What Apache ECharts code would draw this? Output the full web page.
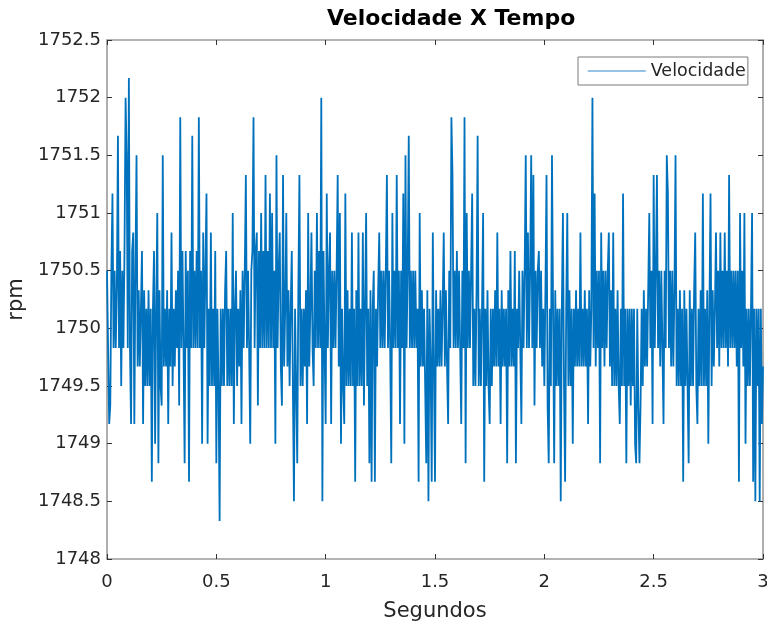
<!DOCTYPE html>
<html>
<head>
<meta charset="utf-8">
<script src="https://cdn.jsdelivr.net/npm/echarts@6/dist/echarts.min.js"></script>
<style>
html,body{margin:0;padding:0;background:#fff;}
#chart{width:767px;height:623px;}
</style>
</head>
<body>
<div id="chart"></div>
<script>
// Sampling interval of the recorded signal (s)
const passo = 0.005;
// Velocity samples (rpm)
const rpm = [
1750.5,1749.83,1749.17,1749.33,1750.5,1751.17,1749.83,1750.5,1749.83,1750.33,
1751.67,1749.83,1750.67,1749.5,1750.5,1749.83,1750.67,1752,1751.5,1749.83,
1752.17,1749.83,1749.17,1750.67,1750.83,1749.17,1750.5,1751.5,1749.67,1750.33,
1749.67,1750.17,1750.67,1749.17,1750.33,1749.5,1750.17,1749.5,1750.33,1749.5,
1750.17,1748.67,1750.17,1750.67,1749,1750.17,1751,1748.83,1750.33,1749.5,
1749.33,1751.5,1749.67,1750.17,1749.67,1750.33,1749.17,1750.17,1749.67,1750.83,
1749.5,1750.17,1749.67,1750.33,1749.83,1750.5,1749.33,1751.83,1749.83,1750.67,
1749.83,1748.83,1750.67,1749.83,1750.5,1748.67,1750.67,1749.83,1751.67,1749.83,
1750.5,1749.83,1750.67,1749.83,1751.83,1749.83,1750.5,1749,1750.83,1749.83,
1750.5,1751.17,1749,1750.17,1749.5,1750.83,1749.5,1750.17,1749.5,1750.67,
1748.83,1750.17,1749.5,1748.33,1750.17,1749.5,1750.17,1749.5,1750.33,1750.67,
1749.5,1750.17,1749.5,1750.17,1749.5,1751,1749.17,1750.17,1750.5,1749.5,
1750.17,1749.67,1750.33,1749.17,1750.5,1749.83,1750.5,1751.33,1749.83,1750.5,
1749.83,1749,1750.5,1750.67,1751.83,1749.83,1750.67,1750.83,1749.33,1750.67,
1749.83,1751,1749.83,1750.67,1749.83,1751.33,1749.83,1750.67,1749.83,1751.17,
1749.83,1751,1749.83,1750.5,1749,1751.5,1749.83,1750.5,1750.83,1749.67,
1749.33,1751.33,1749.67,1750.17,1751,1749.67,1750.33,1749.5,1750.17,1750.67,
1749.5,1748.5,1750.17,1749.5,1748.83,1750.33,1751.33,1749.5,1750.17,1749.5,
1750.17,1749.67,1750.33,1749.17,1751,1749.67,1750.17,1750.83,1749.83,1749.5,
1750.5,1749.83,1751,1749.83,1750.67,1749.83,1752,1748.5,1750.67,1749.83,
1749.17,1751.17,1749.83,1750.5,1750.83,1749.17,1750.5,1749.83,1750.5,1749.83,
1750.5,1751.33,1749.67,1751,1749,1750.17,1749.5,1749.17,1751.17,1749.5,
1750.33,1749.5,1750.17,1749.5,1750.83,1749.5,1750.17,1748.67,1750.33,1749.5,
1750.83,1749.5,1750.17,1749.5,1750.83,1749.33,1750.17,1751,1749.5,1750.17,
1748.83,1750.33,1748.67,1750.17,1750.5,1748.67,1750.17,1749.67,1750.33,1750.83,
1749.83,1750.5,1749.83,1750.5,1749.83,1750.5,1751.33,1749.83,1750.5,1749.83,
1748.83,1751,1749.83,1750.5,1749.83,1751.33,1749.83,1750.5,1749.17,1750.5,
1749.83,1751.17,1749,1751.5,1749.83,1750.5,1751.67,1749.83,1750.5,1749.83,
1750.5,1749.83,1750.5,1749.83,1750.17,1748.67,1751,1749.67,1750.33,1749.67,
1750.17,1749.5,1748.83,1750.33,1748.5,1750.17,1749.67,1748.67,1750.83,1749.67,
1748.67,1750.33,1749.67,1750.17,1749.67,1750.33,1749.67,1750.17,1750.83,1749.67,
1750.33,1749.67,1749.17,1750.5,1749.83,1751.83,1751.33,1749.83,1750.5,1749.83,
1750.67,1749.83,1750.5,1749.83,1749.17,1750.5,1749.83,1751.83,1748.83,1751,
1749.83,1750.5,1749.83,1750.5,1751.17,1749.5,1750.17,1749.5,1750.33,1751.67,
1749.5,1750.17,1749.5,1750.17,1751,1748.67,1750.17,1749.5,1750.33,1749.5,
1749.17,1750.17,1749.5,1750.17,1749.67,1750.33,1749.67,1750.83,1749.67,1750.17,
1749.17,1750.33,1749.67,1750.17,1749.67,1750.17,1748.83,1750.33,1749.67,1750.67,
1749.67,1750.17,1749.67,1750.67,1748.83,1750.17,1749.83,1750.5,1749.83,1749.17,
1750.5,1749.83,1750.5,1751.5,1749.83,1750.83,1749.83,1750.5,1751.5,1749.83,
1751.33,1749.33,1750.5,1749.83,1750.5,1750.67,1749.83,1750.5,1749.67,1750.17,
1749.5,1750.33,1751.33,1749.33,1748.83,1750.17,1749.5,1751.5,1750.17,1748.83,
1750.33,1749.5,1750.17,1749.5,1750.17,1748.5,1750.17,1751,1749.5,1748.67,
1750.17,1751,1749.5,1750.33,1749.5,1750.17,1749,1750.17,1749.67,1750.33,
1749.67,1750.17,1749.67,1750.83,1749.67,1750.17,1749.67,1750.33,1749.67,1750.17,
1749.17,1750.33,1749.67,1750.17,1752,1749.83,1751.17,1749.67,1750.5,1749.83,
1750.5,1748.83,1750.83,1749.83,1750.5,1749.67,1750.5,1749.83,1750.5,1750.83,
1749.67,1750.33,1749.5,1750.83,1749.5,1750.17,1749.5,1750.33,1749.5,1749.17,
1750.17,1749.5,1751.17,1749.5,1750.17,1748.83,1750.17,1749.5,1750.17,1749.33,
1750.17,1749.5,1750.17,1749,1748.83,1750.17,1749.33,1748.83,1749.33,1750.17,
1749.5,1750.33,1749.67,1750.17,1749.67,1750.33,1751,1749.83,1750.5,1749.17,
1751.33,1749.83,1750.5,1751.33,1749.83,1750.5,1749.67,1750.5,1749.83,1749.17,
1750.5,1749.83,1751.5,1751.17,1749.83,1750.5,1749.67,1750.5,1749.67,1750.33,
1751.5,1749.5,1750.17,1749.5,1750.33,1749.5,1750.17,1748.67,1750.33,1749.5,
1750.17,1749.5,1748.83,1750.33,1749.5,1750.17,1749.5,1750.33,1750.83,1749.5,
1749.17,1750.17,1749.5,1750.33,1749.5,1751.17,1749.5,1750.17,1749.5,1750.33,
1749,1750.17,1751.17,1749.5,1750.33,1749.67,1750.17,1750.83,1749.83,1750.5,
1749.67,1750.83,1749.83,1750.5,1749.83,1750.83,1749.83,1750.5,1749.67,1751.33,
1749.83,1750.5,1749.83,1750.5,1749.83,1750.5,1749.67,1750.5,1748.67,1751,
1749.83,1750.5,1749.67,1751,1749,1750.17,1749.5,1750.17,1749.5,1750.17,
1751,1748.67,1750.17,1748.5,1750.17,1749.5,1750.17,1748.5,1750.17,1749.17,
1749.67
];
// Time stamps (s)
const tempo = rpm.map((_, i) => +(i * passo).toFixed(3));
const serie = tempo.map((t, i) => [t, rpm[i]]);

// Axis settings
const xMin = 0, xMax = 3, xStep = 0.5;
const yMin = 1748, yMax = 1752.5, yStep = 0.5;

const titulo = 'Velocidade X Tempo';
const nomeX = 'Segundos';
const nomeY = 'rpm';
const nomeSerie = 'Velocidade';

const FONT = 'DejaVu Sans';
const TXT = '#262626';
const AXIS = '#9a9a9a';
const TICK = '#333333';

const chart = echarts.init(document.getElementById('chart'), null, {renderer: 'canvas'});

const axisCommonX = {
  type: 'value', min: xMin, max: xMax, interval: xStep,
  splitLine: {show: false},
  axisLine: {show: true, onZero: false, lineStyle: {color: AXIS, width: 1.6}},
  axisTick: {show: true, inside: true, length: 5, lineStyle: {color: TICK, width: 1}}
};
const axisCommonY = {
  type: 'value', min: yMin, max: yMax, interval: yStep,
  splitLine: {show: false},
  axisLine: {show: true, onZero: false, lineStyle: {color: AXIS, width: 1.6}},
  axisTick: {show: true, inside: true, length: 5, lineStyle: {color: TICK, width: 1}}
};

chart.setOption({
  animation: false,
  backgroundColor: '#ffffff',
  title: {
    text: titulo,
    left: 327, top: 8, padding: 0,
    textStyle: {fontFamily: FONT, fontWeight: 'bold', fontSize: 22, color: '#000000'}
  },
  legend: {
    data: [nomeSerie],
    left: 578, top: 57,
    padding: [5, 2, 5, 9],
    itemWidth: 58, itemHeight: 14,
    backgroundColor: '#ffffff',
    borderColor: '#7a7a7a', borderWidth: 1,
    lineStyle: {color: '#72aedc', width: 1.5},
    itemStyle: {opacity: 0},
    textStyle: {fontFamily: FONT, fontSize: 17.5, color: TXT}
  },
  grid: {left: 107, right: 4, top: 40, bottom: 64, containLabel: false, outerBoundsMode: 'none'},
  xAxis: [
    Object.assign({}, axisCommonX, {
      position: 'bottom',
      name: nomeX, nameLocation: 'middle', nameGap: 42,
      nameTextStyle: {fontFamily: FONT, fontSize: 21, color: TXT},
      axisLabel: {fontFamily: FONT, fontSize: 18, color: TXT, margin: 14,
        formatter: v => String(v)}
    }),
    Object.assign({}, axisCommonX, {
      position: 'top',
      axisLabel: {show: false}
    })
  ],
  yAxis: [
    Object.assign({}, axisCommonY, {
      position: 'left',
      name: nomeY, nameLocation: 'middle', nameGap: 73, nameRotate: 90,
      nameTextStyle: {fontFamily: FONT, fontSize: 21, color: TXT},
      axisLabel: {fontFamily: FONT, fontSize: 18, color: TXT, margin: 6,
        formatter: v => String(v)}
    }),
    Object.assign({}, axisCommonY, {
      position: 'right',
      axisLabel: {show: false}
    })
  ],
  series: [{
    name: nomeSerie,
    type: 'line',
    xAxisIndex: 0, yAxisIndex: 0,
    data: serie,
    symbol: 'none', showSymbol: false,
    sampling: null,
    lineStyle: {color: '#0072BD', width: 1.8, join: 'bevel'},
    itemStyle: {color: '#0072BD'},
    emphasis: {disabled: true},
    clip: true
  }]
});
</script>
</body>
</html>
